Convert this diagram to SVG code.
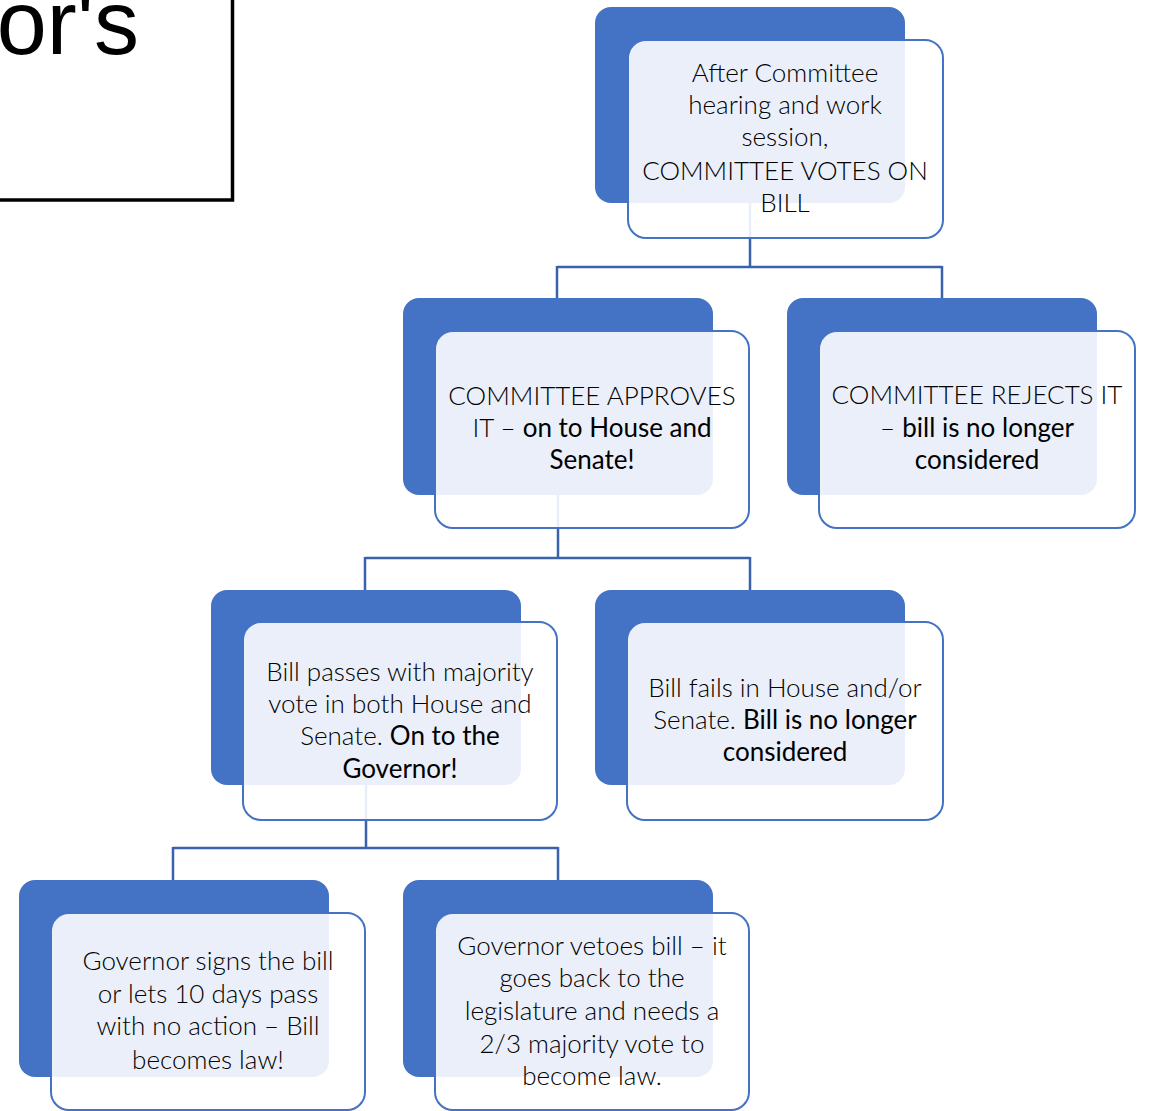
<svg xmlns="http://www.w3.org/2000/svg" width="1150" height="1111" viewBox="0 0 1150 1111">
<style>
.back{fill:#4472C4}
.front{fill:#ffffff;fill-opacity:0.89;stroke:#4472C4;stroke-width:2}
.conn{fill:none;stroke:#3A62AC;stroke-width:2.5}
.t{font-family:Lato,"Liberation Sans",sans-serif;font-size:26px;font-weight:300;fill:#000;text-anchor:middle}
.b{font-weight:400}
</style>
<rect width="1150" height="1111" fill="#ffffff"/>
<g id="title-box">
<rect x="-10" y="-10" width="242.5" height="210" fill="#ffffff" stroke="#000000" stroke-width="3.5"/>
<text x="139" y="54" font-family="'Liberation Sans',Arial,sans-serif" font-size="90" text-anchor="end" fill="#000">or's</text>
</g>
<g id="connectors">
<path class="conn" d="M750,203 V267 M557,267 H942 M557,266 V298 M942,266 V298"/>
<path class="conn" d="M558,495 V558 M365,558 H750 M365,557 V590 M750,557 V590"/>
<path class="conn" d="M366,785 V848 M173,848 H558 M173,847 V880 M558,847 V880"/>
</g>
<g id="node-committee-votes">
<rect class="back" x="595" y="7" width="310" height="196" rx="16"/>
<rect class="front" x="628" y="40" width="315" height="198" rx="18"/>
<text class="t"><tspan x="785" y="82">After Committee</tspan><tspan x="785" y="114">hearing and work</tspan><tspan x="785" y="146">session,</tspan><tspan x="785" y="180">COMMITTEE VOTES ON</tspan><tspan x="785" y="212">BILL</tspan></text>
</g>
<g id="node-approves">
<rect class="back" x="403" y="298" width="310" height="197" rx="16"/>
<rect class="front" x="435" y="331" width="314" height="197" rx="18"/>
<text class="t"><tspan x="592" y="405">COMMITTEE APPROVES</tspan><tspan x="592" y="437">IT – <tspan class="b">on to House and</tspan></tspan><tspan x="592" y="469" class="b">Senate!</tspan></text>
</g>
<g id="node-rejects">
<rect class="back" x="787" y="298" width="310" height="197" rx="16"/>
<rect class="front" x="819" y="331" width="316" height="197" rx="18"/>
<text class="t"><tspan x="977" y="404">COMMITTEE REJECTS IT</tspan><tspan x="977" y="437">– <tspan class="b">bill is no longer</tspan></tspan><tspan x="977" y="469" class="b">considered</tspan></text>
</g>
<g id="node-passes">
<rect class="back" x="211" y="590" width="310" height="195" rx="16"/>
<rect class="front" x="243" y="622" width="314" height="198" rx="18"/>
<text class="t"><tspan x="400" y="681">Bill passes with majority</tspan><tspan x="400" y="713">vote in both House and</tspan><tspan x="400" y="745">Senate. <tspan class="b">On to the</tspan></tspan><tspan x="400" y="778" class="b">Governor!</tspan></text>
</g>
<g id="node-fails">
<rect class="back" x="595" y="590" width="310" height="195" rx="16"/>
<rect class="front" x="627" y="622" width="316" height="198" rx="18"/>
<text class="t"><tspan x="785" y="697">Bill fails in House and/or</tspan><tspan x="785" y="729">Senate. <tspan class="b">Bill is no longer</tspan></tspan><tspan x="785" y="761" class="b">considered</tspan></text>
</g>
<g id="node-signs">
<rect class="back" x="19" y="880" width="310" height="197" rx="16"/>
<rect class="front" x="51" y="913" width="314" height="197" rx="18"/>
<text class="t"><tspan x="208" y="970">Governor signs the bill</tspan><tspan x="208" y="1003">or lets 10 days pass</tspan><tspan x="208" y="1035">with no action – Bill</tspan><tspan x="208" y="1069">becomes law!</tspan></text>
</g>
<g id="node-vetoes">
<rect class="back" x="403" y="880" width="310" height="197" rx="16"/>
<rect class="front" x="435" y="913" width="314" height="197" rx="18"/>
<text class="t"><tspan x="592" y="955">Governor vetoes bill – it</tspan><tspan x="592" y="987">goes back to the</tspan><tspan x="592" y="1020">legislature and needs a</tspan><tspan x="592" y="1053">2/3 majority vote to</tspan><tspan x="592" y="1085">become law.</tspan></text>
</g>
</svg>
